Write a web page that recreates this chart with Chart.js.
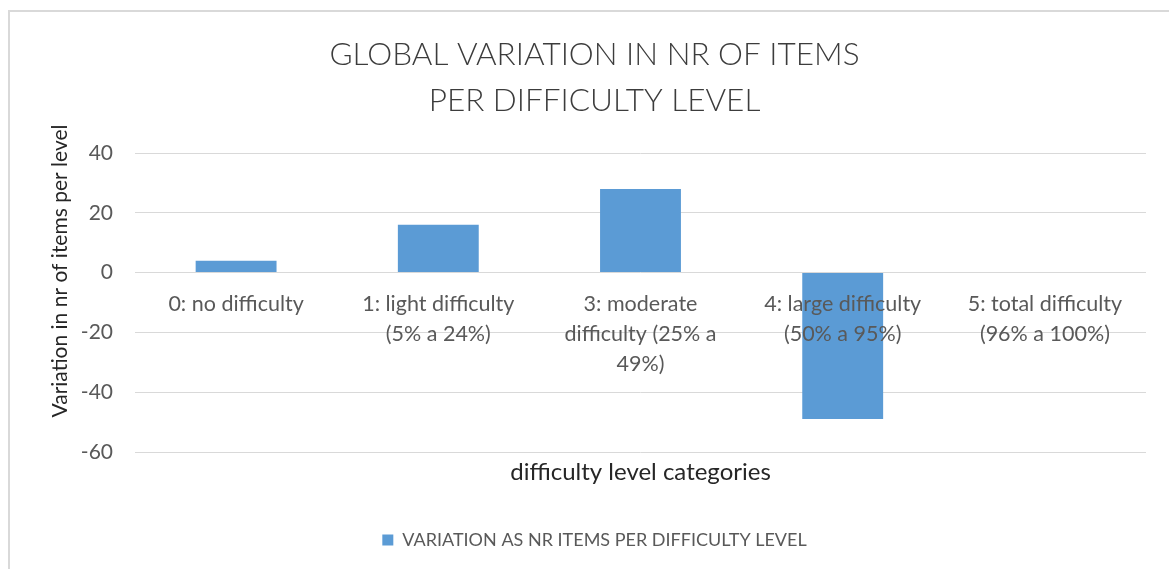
<!DOCTYPE html>
<html>
<head>
<meta charset="utf-8">
<script src="https://cdn.jsdelivr.net/npm/chart.js@4/dist/chart.umd.min.js"></script>
<style>
  html, body { margin: 0; padding: 0; background: #ffffff; overflow: hidden; }
  #frame { position: absolute; left: 8px; top: 10px; width: 1200px; height: 600px;
           border-left: 2px solid #d9d9d9; border-top: 2px solid #d9d9d9; }
  #c { position: absolute; left: 0; top: 0; }
</style>
</head>
<body>
<div id="frame"></div>
<canvas id="c" width="1169" height="569" style="width:1169px;height:569px"></canvas>
<script>
const chartTitle = ["GLOBAL VARIATION IN NR OF ITEMS", "PER DIFFICULTY LEVEL"];
const categories = [
  ["0: no difficulty"],
  ["1: light difficulty", "(5% a 24%)"],
  ["3: moderate", "difficulty (25% a", "49%)"],
  ["4: large difficulty", "(50% a 95%)"],
  ["5: total difficulty", "(96% a 100%)"]
];
const variation = [4, 16, 28, -49, 0];
const seriesName = "VARIATION AS NR ITEMS PER DIFFICULTY LEVEL";
const yAxisTitle = "Variation in nr of items per level";
const xAxisTitle = "difficulty level categories";
const yMin = -60, yMax = 40, yStep = 20;

const FONT = "Lato, 'Open Sans', sans-serif";

// Draws the vertical axis title (Excel places it slightly above the plot centre)
const yTitlePlugin = {
  id: 'yTitle',
  afterDraw(chart) {
    const ctx = chart.ctx;
    ctx.save();
    ctx.translate(60, 271);
    ctx.rotate(-Math.PI / 2);
    ctx.font = "21px " + FONT;
    ctx.fillStyle = '#262626';
    ctx.textAlign = 'center';
    ctx.textBaseline = 'middle';
    ctx.fillText(yAxisTitle, 0, 0);
    ctx.restore();
  }
};

new Chart(document.getElementById('c'), {
  type: 'bar',
  data: {
    labels: categories,
    datasets: [{
      label: seriesName,
      data: variation,
      backgroundColor: '#5B9BD5',
      borderWidth: 0,
      categoryPercentage: 1.0,
      barPercentage: 0.4,
      xAxisID: 'x',
      yAxisID: 'y'
    }]
  },
  plugins: [yTitlePlugin],
  options: {
    responsive: false,
    animation: false,
    layout: { padding: { top: 10, left: 43, right: 23, bottom: 10 } },
    plugins: {
      title: {
        display: true,
        text: chartTitle,
        color: '#3c3c3c',
        font: { family: FONT, size: 31.5, weight: '300', lineHeight: '46px' },
        padding: { top: 22, bottom: 29 }
      },
      legend: {
        display: true,
        position: 'bottom',
        labels: {
          color: '#595959',
          font: { family: FONT, size: 18 },
          boxWidth: 11,
          boxHeight: 11,
          padding: 10
        }
      },
      tooltip: { enabled: false }
    },
    scales: {
      y: {
        position: 'left',
        min: yMin,
        max: yMax,
        ticks: {
          stepSize: yStep,
          color: '#595959',
          font: { family: FONT, size: 21 },
          padding: 22
        },
        grid: { color: '#d9d9d9', lineWidth: 1, drawTicks: false },
        border: { display: false },
        afterFit(scale) { scale.width = 92; }
      },
      x: {
        type: 'category',
        position: { y: 0 },
        grid: { display: false, drawTicks: false },
        border: { display: false },
        ticks: {
          z: 1,
          color: '#595959',
          font: { family: FONT, size: 21.5, lineHeight: '30px' },
          padding: 16,
          maxRotation: 0,
          autoSkip: false
        }
      },
      x2: {
        type: 'category',
        position: 'bottom',
        grid: { display: false, drawTicks: false },
        border: { display: false },
        ticks: { display: false },
        title: {
          display: true,
          text: xAxisTitle,
          color: '#262626',
          font: { family: FONT, size: 24, lineHeight: 1.2 },
          padding: { top: 9, bottom: 34.6 }
        },
        afterFit(scale) { scale.height = 69; }
      }
    }
  }
});
</script>
</body>
</html>
